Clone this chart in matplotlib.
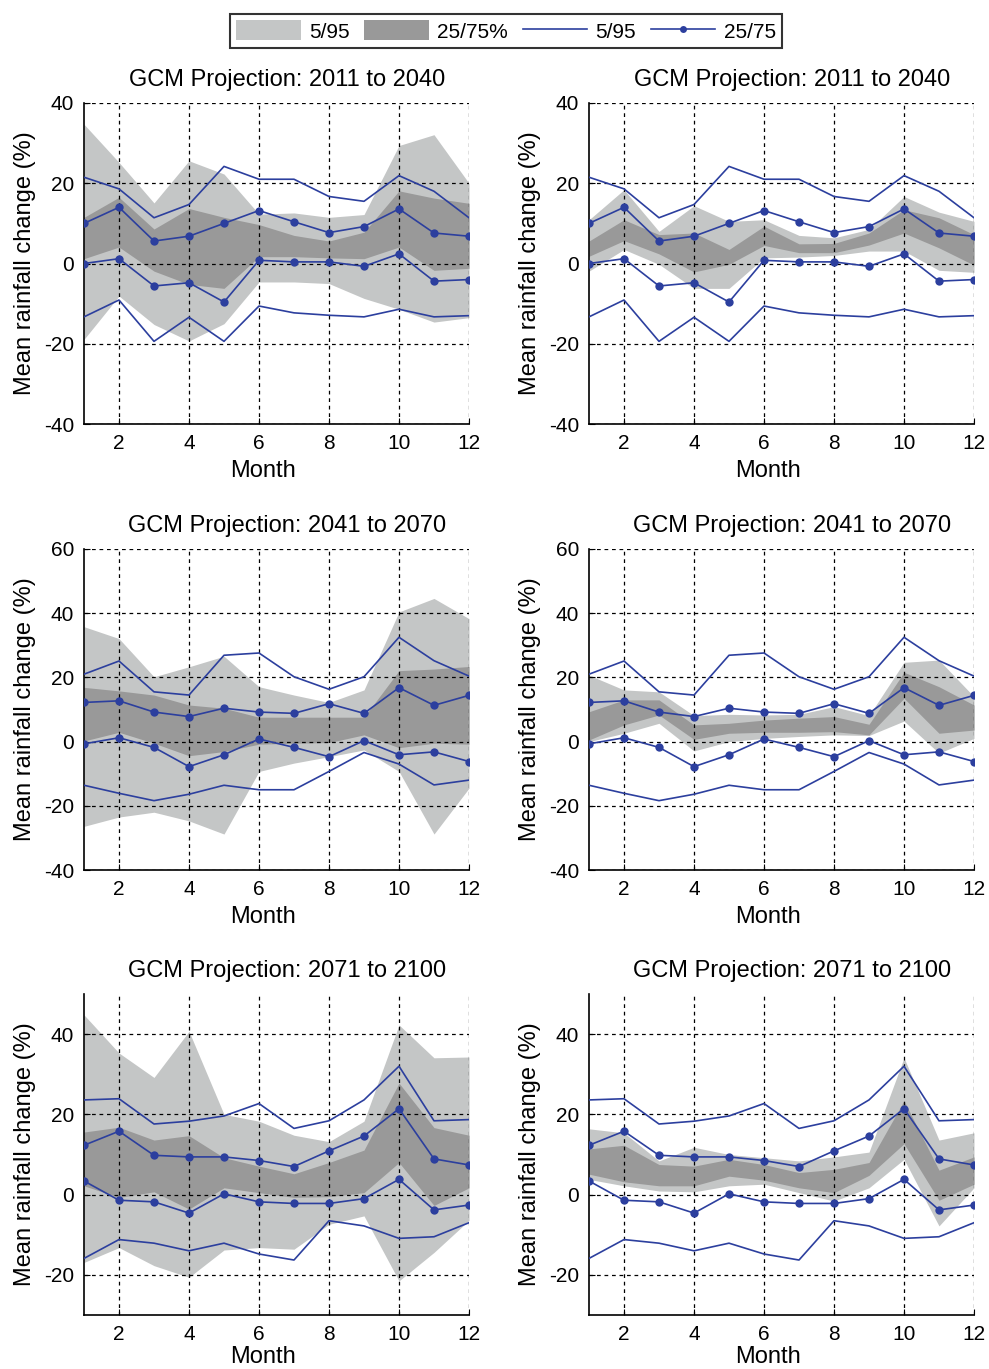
import matplotlib
matplotlib.use("Agg")
import matplotlib.pyplot as plt
from matplotlib.patches import Patch
from matplotlib.lines import Line2D

plt.rcParams['font.family'] = ['Liberation Sans', 'DejaVu Sans']
plt.rcParams['axes.unicode_minus'] = False

months = list(range(1, 13))
periods = ["2011 to 2040", "2041 to 2070", "2071 to 2100"]

# Blue reference lines (shared by both panels of a period)
line05_2011 = [-13.3, -9.1, -19.4, -13.4, -19.4, -10.6, -12.3, -12.9, -13.3, -11.4, -13.3, -13.0]
line95_2011 = [21.5, 18.6, 11.4, 14.7, 24.2, 21.0, 21.0, 16.7, 15.5, 21.9, 18.0, 11.4]
line25_2011 = [0.0, 1.2, -5.6, -4.8, -9.6, 0.8, 0.4, 0.4, -0.7, 2.4, -4.4, -4.0]
line75_2011 = [10.0, 14.0, 5.6, 6.8, 10.0, 13.2, 10.4, 7.7, 9.2, 13.6, 7.6, 6.8]

line05_2041 = [-13.6, -16.1, -18.4, -16.4, -13.6, -15.0, -15.0, -9.3, -3.4, -7.0, -13.5, -12.0]
line95_2041 = [21.0, 25.1, 15.5, 14.5, 26.9, 27.6, 20.2, 16.3, 20.2, 32.5, 25.2, 20.4]
line25_2041 = [-0.7, 1.2, -1.8, -7.8, -4.1, 0.8, -1.8, -4.7, 0.3, -4.1, -3.2, -6.2]
line75_2041 = [12.2, 12.7, 9.2, 7.8, 10.4, 9.2, 8.8, 11.8, 8.8, 16.8, 11.3, 14.4]

line05_2071 = [-15.9, -11.2, -12.1, -14.0, -12.1, -14.8, -16.3, -6.5, -7.8, -10.9, -10.5, -7.0]
line95_2071 = [23.6, 23.9, 17.6, 18.3, 19.6, 22.7, 16.5, 18.4, 23.6, 32.0, 18.4, 18.7]
line25_2071 = [3.4, -1.4, -1.8, -4.6, 0.2, -1.8, -2.2, -2.2, -1.0, 3.8, -3.8, -2.6]
line75_2071 = [12.3, 15.8, 9.8, 9.4, 9.4, 8.5, 7.0, 10.9, 14.6, 21.4, 8.9, 7.4]

# Shaded percentile bands, left column
band05_left_2011 = [-18.9, -8.1, -15.2, -19.3, -15.0, -4.6, -4.6, -5.0, -8.7, -11.4, -14.6, -13.5]
band95_left_2011 = [34.7, 25.2, 15.1, 25.6, 22.3, 12.3, 12.6, 11.5, 12.2, 29.4, 32.1, 20.0]
band25_left_2011 = [1.2, 4.1, -1.9, -5.2, -6.2, 1.7, 1.7, 1.4, 1.2, 4.1, -1.7, -1.2]
band75_left_2011 = [11.5, 16.5, 8.6, 13.7, 11.5, 9.7, 7.0, 5.6, 7.8, 18.1, 16.3, 15.0]

band05_left_2041 = [-26.4, -23.5, -22.0, -24.7, -28.8, -9.3, -6.7, -4.7, -2.6, -9.3, -28.8, -14.5]
band95_left_2041 = [35.8, 32.1, 20.2, 23.3, 26.6, 17.1, 14.5, 12.2, 16.1, 40.4, 44.6, 38.3]
band25_left_2041 = [0.2, 2.9, -0.5, -4.4, -3.1, -0.8, -0.5, -0.3, 2.1, -1.9, -0.5, -0.8]
band75_left_2041 = [16.9, 15.8, 14.5, 11.4, 10.4, 7.6, 7.6, 7.6, 7.6, 22.1, 22.6, 23.4]

band05_left_2071 = [-16.9, -13.2, -17.7, -20.6, -13.8, -13.2, -13.6, -7.4, -5.3, -21.5, -14.4, -6.4]
band95_left_2071 = [44.8, 35.3, 29.2, 40.7, 20.0, 18.3, 14.8, 13.2, 18.3, 42.3, 34.1, 34.3]
band25_left_2071 = [2.2, -0.7, 0.7, -3.6, 1.7, 0.5, -0.7, -0.5, 0.5, 8.0, -2.7, 1.7]
band75_left_2071 = [15.6, 16.8, 13.6, 14.7, 9.2, 7.1, 5.2, 8.0, 11.1, 27.8, 16.7, 14.8]

# Shaded percentile bands, right column
band05_right_2011 = [-1.9, 3.5, -0.2, -6.2, -6.2, 1.4, 1.6, 2.0, 3.1, 3.1, -1.7, -2.2]
band95_right_2011 = [10.9, 18.4, 8.0, 14.4, 10.5, 10.9, 7.0, 6.4, 8.5, 16.7, 12.8, 10.5]
band25_right_2011 = [1.8, 5.7, 2.4, -2.1, -0.2, 4.5, 2.7, 2.7, 4.6, 7.6, 3.9, -0.4]
band75_right_2011 = [5.6, 10.9, 7.2, 7.6, 3.5, 9.3, 4.9, 5.0, 7.6, 13.4, 11.4, 7.2]

band05_right_2041 = [0.0, 2.6, 5.7, -2.9, 0.0, 1.0, 1.6, 2.1, 1.9, 6.4, -3.6, 1.0]
band95_right_2041 = [20.7, 16.1, 15.5, 8.1, 8.5, 8.3, 8.5, 10.9, 8.1, 24.7, 25.4, 14.0]
band25_right_2041 = [0.5, 5.2, 8.3, 0.7, 2.6, 2.9, 2.9, 3.1, 2.1, 13.5, 2.6, 3.6]
band75_right_2041 = [9.3, 13.0, 13.0, 5.2, 5.7, 6.7, 7.3, 7.8, 5.4, 21.6, 17.1, 11.4]

band05_right_2071 = [3.8, 2.2, 0.9, 0.7, 2.2, 2.6, 0.5, -1.6, 1.7, 8.8, -7.8, 1.7]
band95_right_2071 = [16.4, 15.4, 8.4, 11.8, 10.0, 9.2, 8.4, 9.4, 10.6, 34.1, 13.6, 15.4]
band25_right_2071 = [5.1, 3.2, 2.2, 2.2, 4.6, 3.6, 1.7, 0.5, 4.8, 12.7, -1.4, 2.6]
band75_right_2071 = [11.4, 12.3, 7.5, 7.1, 8.8, 7.5, 5.5, 6.3, 8.0, 23.4, 6.1, 9.4]

ylims = [(-40, 40), (-40, 60), (-30, 50)]
yticks = [[-40, -20, 0, 20, 40], [-40, -20, 0, 20, 40, 60], [-20, 0, 20, 40]]

lines_by_period = [
    (line05_2011, line95_2011, line25_2011, line75_2011),
    (line05_2041, line95_2041, line25_2041, line75_2041),
    (line05_2071, line95_2071, line25_2071, line75_2071),
]
bands_left = [
    (band05_left_2011, band95_left_2011, band25_left_2011, band75_left_2011),
    (band05_left_2041, band95_left_2041, band25_left_2041, band75_left_2041),
    (band05_left_2071, band95_left_2071, band25_left_2071, band75_left_2071),
]
bands_right = [
    (band05_right_2011, band95_right_2011, band25_right_2011, band75_right_2011),
    (band05_right_2041, band95_right_2041, band25_right_2041, band75_right_2041),
    (band05_right_2071, band95_right_2071, band25_right_2071, band75_right_2071),
]

LIGHT = '#c4c6c6'
DARK = '#999999'
BLUE = '#2c3f9e'

W, H = 989, 1369
fig = plt.figure(figsize=(W / 100, H / 100), dpi=100)

col_left = [84, 589]
col_w = 385
row_top = [103, 549, 994]
row_h = 321
month_label_y = [-0.113, -0.113, -0.097]


def draw_panel(ax, period, lines, bands, ylim, ticks, mly):
    p05, p95, p25, p75 = bands
    ax.fill_between(months, p05, p95, color=LIGHT, linewidth=0, zorder=1)
    ax.fill_between(months, p25, p75, color=DARK, linewidth=0, zorder=1.2)
    l05, l95, l25, l75 = lines
    for vals in (l05, l95):
        ax.plot(months, vals, color=BLUE, lw=1.2, zorder=3)
    for vals in (l25, l75):
        ax.plot(months, vals, color=BLUE, lw=1.2, marker='o', ms=6,
                markeredgewidth=0, zorder=3)
    ax.set_xlim(1, 12)
    ax.set_ylim(*ylim)
    ax.set_xticks([2, 4, 6, 8, 10, 12])
    ax.set_yticks(ticks)
    ax.grid(True, color='black', linestyle=(0, (3, 3)), linewidth=0.9, zorder=2)
    ax.set_axisbelow(False)
    for s in ('top', 'right'):
        ax.spines[s].set_visible(False)
    for s in ('left', 'bottom'):
        ax.spines[s].set_linewidth(1.2)
    ax.tick_params(direction='in', length=4, labelsize=15)
    ax.tick_params(axis='x', pad=7)
    ax.tick_params(axis='y', pad=7)
    ax.set_xlabel('Month', fontsize=17)
    ax.xaxis.set_label_coords(0.466, mly)
    ax.set_ylabel('Mean rainfall change (%)', fontsize=17)
    ax.yaxis.set_label_coords(-0.124, 0.5)
    ax.set_title(f'GCM Projection: {period}', fontsize=17, x=0.527, pad=12)


for r in range(3):
    for c in range(2):
        ax = fig.add_axes([col_left[c] / W, 1 - (row_top[r] + row_h) / H,
                           col_w / W, row_h / H])
        bands = bands_left[r] if c == 0 else bands_right[r]
        draw_panel(ax, periods[r], lines_by_period[r], bands, ylims[r], yticks[r],
                   month_label_y[r])

handles = [
    Patch(facecolor=LIGHT, edgecolor='none', label='5/95'),
    Patch(facecolor=DARK, edgecolor='none', label='25/75%'),
    Line2D([], [], color=BLUE, lw=1.2, label='5/95'),
    Line2D([], [], color=BLUE, lw=1.2, marker='o', ms=5, markeredgewidth=0, label='25/75'),
]
leg = fig.legend(handles=handles, loc='center', bbox_to_anchor=(506 / W, 1 - 31 / H),
                 ncol=4, fontsize=15, frameon=True, fancybox=False,
                 handlelength=3.1, handleheight=1.1, handletextpad=0.4,
                 columnspacing=0.7, borderpad=0.3, borderaxespad=0)
leg.get_frame().set_edgecolor('black')
leg.get_frame().set_linewidth(1.5)

fig.savefig('out.png', dpi=100)
